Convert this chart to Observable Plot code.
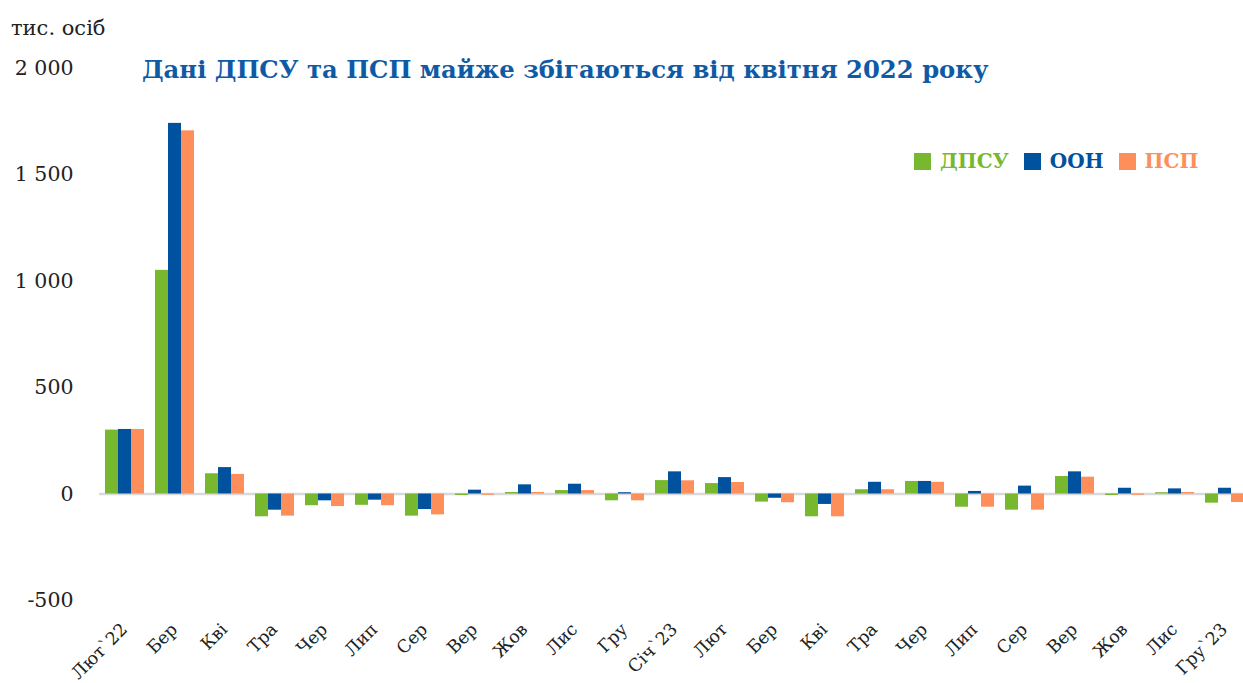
<!DOCTYPE html>
<html>
<head>
<meta charset="utf-8">
<script src="https://cdn.jsdelivr.net/npm/d3@7"></script>
<script src="https://cdn.jsdelivr.net/npm/@observablehq/plot@0.6"></script>
<style>
  html, body { margin: 0; padding: 0; background: #fff; overflow: hidden; }
  #wrap { position: relative; width: 1243px; height: 683px; font-family: "DejaVu Serif", serif; }
  #unit { position: absolute; left: 11px; top: 16px; font-size: 21px; color: #222; }
  #title { position: absolute; left: 142px; top: 55px; font-size: 24.3px; font-weight: bold; color: #0F5AA5; white-space: nowrap; }
  #legend { position: absolute; left: 914px; top: 149px; display: flex; align-items: center; font-size: 20px; font-weight: bold; white-space: nowrap; }
  #legend .item { display: flex; align-items: center; margin-right: 15px; }
  #legend .sw { width: 17px; height: 17px; margin-right: 9px; }
  #chart { position: absolute; left: 0; top: 0; }
</style>
</head>
<body>
<div id="wrap">
  <div id="chart"></div>
  <div id="unit">тис. осіб</div>
  <div id="title">Дані ДПСУ та ПСП майже збігаються від квітня 2022 року</div>
  <div id="legend"></div>
</div>
<script>
const months = ["Лют`22","Бер","Кві","Тра","Чер","Лип","Сер","Вер","Жов","Лис","Гру","Січ`23","Лют","Бер","Кві","Тра","Чер","Лип","Сер","Вер","Жов","Лис","Гру`23"];
const series = ["ДПСУ","ООН","ПСП"];
const colors = ["#77B82F","#00519E","#FF8F5A"];
const dpsu = [300, 1050, 95, -107, -55, -53, -104, -7, 7, 16, -32, 63, 49, -38, -107, 20, 59, -62, -76, 82, -7, 6, -43];
const oon  = [303, 1740, 124, -76, -32, -29, -73, 18, 43, 46, 6, 104, 77, -20, -49, 55, 59, 12, 37, 104, 27, 24, 27];
const psp  = [303, 1705, 92, -104, -59, -55, -98, -6, 7, 16, -32, 62, 54, -41, -107, 20, 55, -62, -76, 79, -6, 7, -40];
const yTicks = [-500, 0, 500, 1000, 1500, 2000];

const values = [dpsu, oon, psp];
const rows = months.flatMap((m, i) => series.map((s, j) => ({i, s, v: values[j][i]})));

const fmt = d => String(d).replace(/\B(?=(\d{3})+(?!\d))/g, " ");

const chart = Plot.plot({
  width: 1243,
  height: 683,
  marginTop: 67.5,
  marginBottom: 83,
  marginLeft: 99,
  marginRight: -6,
  style: {fontFamily: "DejaVu Serif", fontSize: "17.5px", color: "#222", background: "transparent", overflow: "visible"},
  fx: {domain: d3.range(months.length), paddingInner: 0.2, paddingOuter: 0.1, tickFormat: i => months[i], tickRotate: -45, tickSize: 0, tickPadding: 26, label: null, axis: "bottom"},
  x: {domain: series, axis: null, padding: 0},
  y: {domain: [-500, 2000], ticks: yTicks, tickFormat: fmt, tickSize: 0, tickPadding: 31, label: null},
  color: {domain: series, range: colors},
  marks: [
    Plot.axisY({ticks: yTicks, tickFormat: fmt, tickSize: 0, tickPadding: 31, label: null, fontSize: 20.5}),
    Plot.ruleY([0], {stroke: "#d9d9d9", strokeWidth: 2.5, insetLeft: -5, insetRight: -5}),
    Plot.barY(rows, {fx: "i", x: "s", y: "v", fill: "s"})
  ]
});
document.getElementById("chart").appendChild(chart);

const legend = document.getElementById("legend");
series.forEach((s, j) => {
  const item = document.createElement("div");
  item.className = "item";
  const sw = document.createElement("div");
  sw.className = "sw";
  sw.style.background = colors[j];
  const t = document.createElement("span");
  t.textContent = s;
  t.style.color = colors[j];
  item.appendChild(sw); item.appendChild(t);
  legend.appendChild(item);
});
</script>
</body>
</html>
